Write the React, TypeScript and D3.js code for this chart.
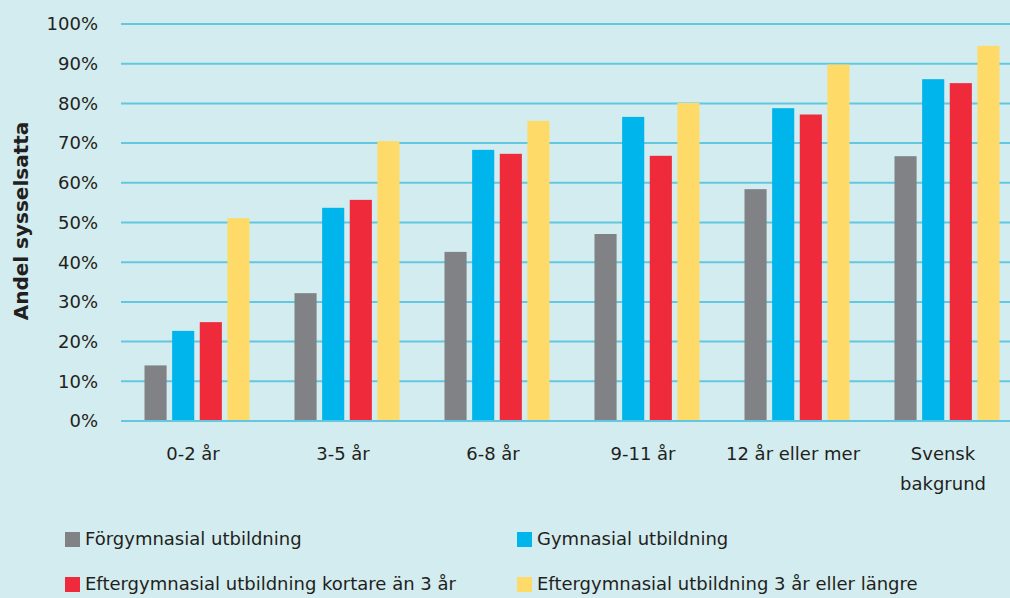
import React, { useEffect, useRef } from "react";
import * as d3 from "d3";

const categories = ["0-2 år", "3-5 år", "6-8 år", "9-11 år", "12 år eller mer", "Svensk\nbakgrund"];
const seriesNames = [
  "Förgymnasial utbildning",
  "Gymnasial utbildning",
  "Eftergymnasial utbildning kortare än 3 år",
  "Eftergymnasial utbildning 3 år eller längre",
];
const forgymnasial = [14, 32.2, 42.6, 47.1, 58.4, 66.7];
const gymnasial = [22.7, 53.7, 68.3, 76.6, 78.8, 86.1];
const kortare = [24.9, 55.7, 67.3, 66.8, 77.2, 85.1];
const langre = [51.1, 70.5, 75.6, 80.1, 89.8, 94.5];
const seriesValues = [forgymnasial, gymnasial, kortare, langre];
const colors = ["#808285", "#00b5eb", "#ee2a3b", "#fedb69"];
const yTicks = [0, 10, 20, 30, 40, 50, 60, 70, 80, 90, 100];

const W = 1010;
const H = 598;
const FONT = "'DejaVu Sans', sans-serif";
const TEXT = "#231f20";

export default function App() {
  const ref = useRef<SVGSVGElement>(null);

  useEffect(() => {
    const svg = d3.select(ref.current);
    svg.selectAll("*").remove();

    svg.append("rect").attr("width", W).attr("height", H).attr("fill", "#d3ecef");

    const y = d3.scaleLinear().domain([0, 100]).range([421, 24]);
    const x = d3.scaleBand<string>().domain(categories).range([121, 1021]).paddingInner(0).paddingOuter(0);
    const xs = d3
      .scaleBand<number>()
      .domain(d3.range(seriesNames.length))
      .range([23.5, 128.5])
      .paddingInner(0.2);

    // gridlines
    svg
      .append("g")
      .selectAll("line")
      .data(yTicks)
      .join("line")
      .attr("x1", 121)
      .attr("x2", W)
      .attr("y1", (d) => y(d))
      .attr("y2", (d) => y(d))
      .attr("stroke", "#63c7df")
      .attr("stroke-width", 2);

    // y tick labels
    svg
      .append("g")
      .selectAll("text")
      .data(yTicks)
      .join("text")
      .attr("x", 98)
      .attr("y", (d) => y(d))
      .attr("dy", "0.35em")
      .attr("text-anchor", "end")
      .attr("font-family", FONT)
      .attr("font-size", 18)
      .attr("fill", TEXT)
      .text((d) => `${d}%`);

    // y title
    svg
      .append("text")
      .attr("transform", "translate(28,221) rotate(-90)")
      .attr("text-anchor", "middle")
      .attr("font-family", FONT)
      .attr("font-weight", "bold")
      .attr("font-size", 20)
      .attr("fill", TEXT)
      .text("Andel sysselsatta");

    // bars
    seriesValues.forEach((vals, si) => {
      svg
        .append("g")
        .selectAll("rect")
        .data(vals)
        .join("rect")
        .attr("x", (_, i) => (x(categories[i]) as number) + (xs(si) as number))
        .attr("width", xs.bandwidth())
        .attr("y", (d) => y(d))
        .attr("height", (d) => y(0) - y(d))
        .attr("fill", colors[si]);
    });

    // redraw baseline on top
    svg
      .append("line")
      .attr("x1", 121)
      .attr("x2", W)
      .attr("y1", y(0))
      .attr("y2", y(0))
      .attr("stroke", "#63c7df")
      .attr("stroke-width", 2);

    // x labels
    const xl = svg.append("g");
    categories.forEach((c) => {
      const lines = c.split("\n");
      const t = xl
        .append("text")
        .attr("text-anchor", "middle")
        .attr("font-family", FONT)
        .attr("font-size", 18)
        .attr("fill", TEXT);
      lines.forEach((ln, li) => {
        t.append("tspan")
          .attr("x", (x(c) as number) + x.bandwidth() / 2 - 3)
          .attr("y", 460 + li * 30)
          .text(ln);
      });
    });

    // legend
    const legendPos = [
      [65, 532],
      [517, 532],
      [65, 577],
      [517, 577],
    ];
    seriesNames.forEach((n, i) => {
      const [lx, ly] = legendPos[i];
      svg.append("rect").attr("x", lx).attr("y", ly).attr("width", 15).attr("height", 15).attr("fill", colors[i]);
      svg
        .append("text")
        .attr("x", lx + 20)
        .attr("y", ly + 13)
        .attr("font-family", FONT)
        .attr("font-size", 18)
        .attr("fill", TEXT)
        .text(n);
    });
  }, []);

  return (
    <svg
      ref={ref}
      width={W}
      height={H}
      style={{ position: "fixed", left: 0, top: 0, display: "block" }}
    />
  );
}
